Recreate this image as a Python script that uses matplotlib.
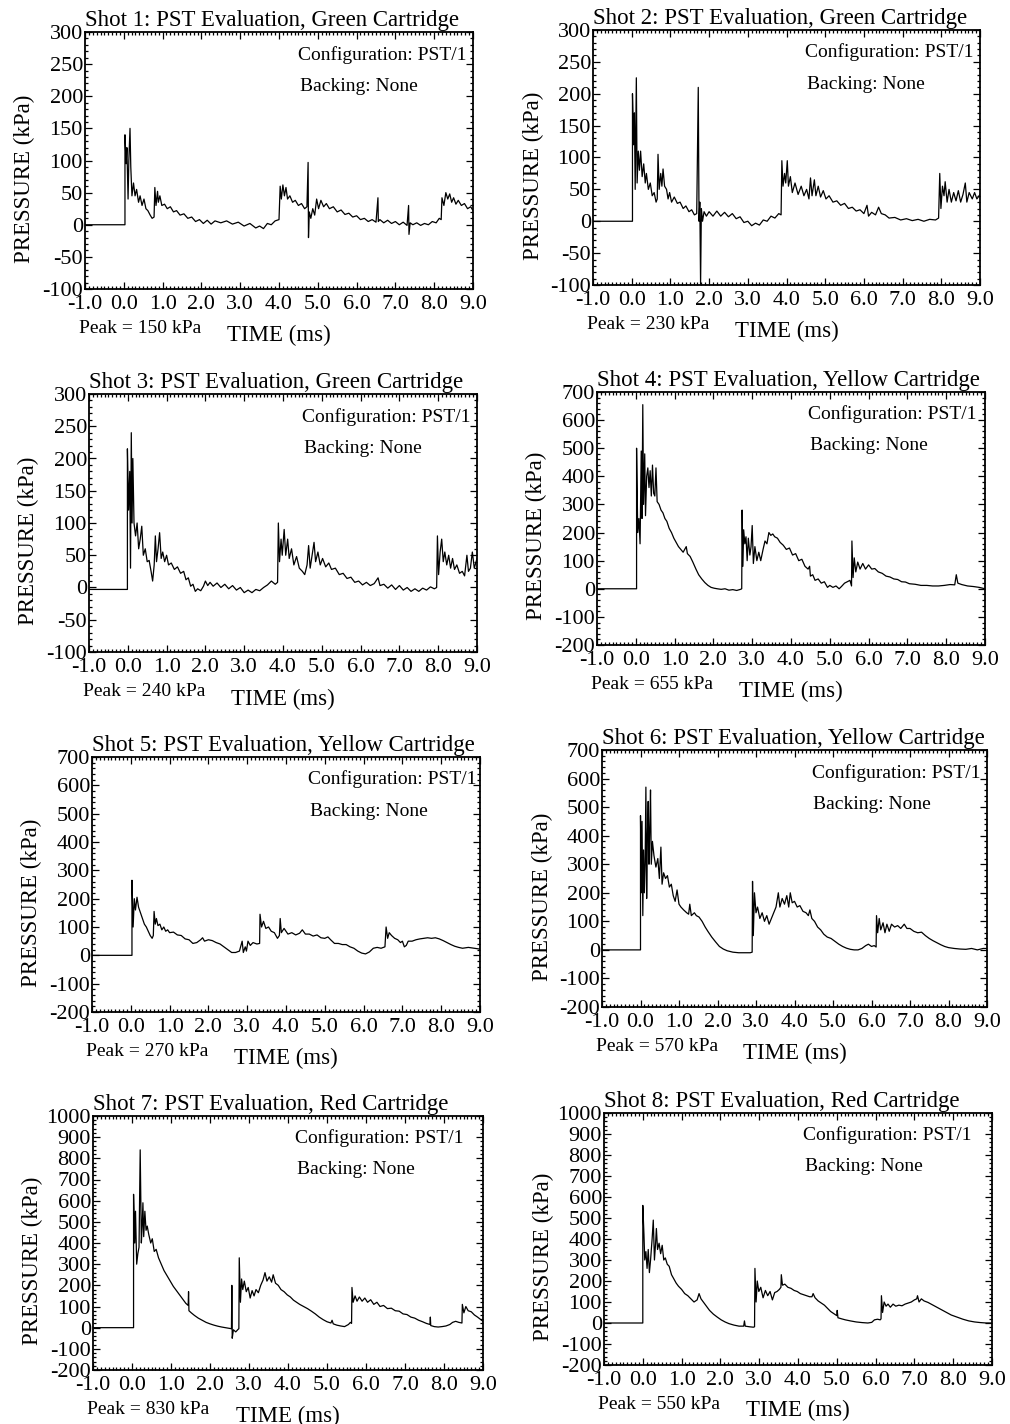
import matplotlib
matplotlib.use("Agg")
import matplotlib.pyplot as plt
from matplotlib.ticker import MultipleLocator, FormatStrFormatter

plt.rcParams['font.family'] = ['Liberation Serif', 'DejaVu Serif']
plt.rcParams['axes.unicode_minus'] = False

# pressure traces: (time ms, pressure kPa)
shot1 = [(-1.0, 0), (0.03, 0), (0.03, 140), (0.06, 95), (0.08, 120), (0.11, 40), (0.13, 100), (0.16, 150),
         (0.18, 90), (0.21, 45), (0.25, 65), (0.29, 45), (0.33, 55), (0.38, 35), (0.42, 45), (0.47, 30),
         (0.52, 40), (0.57, 25), (0.62, 22), (0.68, 15), (0.73, 10), (0.78, 12), (0.80, 58), (0.83, 30),
         (0.87, 52), (0.89, 35), (0.93, 45), (0.98, 30), (1.05, 32), (1.12, 25), (1.2, 28), (1.28, 20),
         (1.36, 22), (1.45, 15), (1.55, 17), (1.65, 10), (1.75, 12), (1.85, 5), (1.95, 8), (2.05, 2),
         (2.15, 7), (2.25, 1), (2.35, 6), (2.5, 3), (2.65, 6), (2.8, 1), (2.95, 4), (3.1, -2), (3.25, 2),
         (3.4, -5), (3.5, -2), (3.6, -6), (3.7, 2), (3.8, 0), (3.9, 6), (4.0, 8), (4.03, 60), (4.06, 40),
         (4.1, 62), (4.14, 45), (4.18, 58), (4.22, 40), (4.28, 45), (4.35, 35), (4.42, 38), (4.5, 30),
         (4.58, 33), (4.66, 25), (4.72, 28), (4.75, 97), (4.76, -20), (4.78, 20), (4.82, 10), (4.87, 25),
         (4.92, 15), (4.97, 40), (5.02, 25), (5.08, 38), (5.15, 28), (5.22, 33), (5.3, 25), (5.4, 28),
         (5.5, 20), (5.6, 23), (5.7, 16), (5.8, 18), (5.9, 12), (6.0, 14), (6.1, 8), (6.2, 10), (6.3, 5),
         (6.4, 8), (6.5, 4), (6.55, 42), (6.56, 5), (6.6, 8), (6.7, 3), (6.8, 7), (6.9, 2), (7.0, 5),
         (7.1, 0), (7.2, 4), (7.3, -1), (7.34, 30), (7.35, -15), (7.38, 3), (7.45, 0), (7.55, 3),
         (7.65, -1), (7.75, 2), (7.85, 0), (7.95, 5), (8.05, 3), (8.13, 10), (8.18, 8), (8.2, 42),
         (8.25, 30), (8.3, 50), (8.35, 40), (8.4, 48), (8.45, 35), (8.5, 42), (8.56, 32), (8.62, 38),
         (8.7, 30), (8.78, 33), (8.86, 25), (8.94, 28), (9.0, 22)]

shot2 = [(-1.0, 0), (0.02, 0), (0.02, 200), (0.05, 120), (0.07, 170), (0.09, 50), (0.12, 225), (0.14, 60),
         (0.17, 110), (0.2, 80), (0.23, 110), (0.27, 70), (0.31, 90), (0.35, 60), (0.38, 75), (0.43, 50),
         (0.48, 60), (0.53, 40), (0.58, 45), (0.63, 30), (0.66, 35), (0.68, 105), (0.71, 50), (0.75, 75),
         (0.78, 55), (0.81, 82), (0.85, 55), (0.9, 50), (0.94, 35), (0.98, 45), (1.03, 30), (1.1, 38),
         (1.18, 28), (1.25, 30), (1.33, 20), (1.4, 24), (1.48, 15), (1.55, 18), (1.62, 10), (1.68, 12),
         (1.72, 210), (1.74, 0), (1.76, 30), (1.78, -100), (1.8, 20), (1.83, 0), (1.87, 15), (1.93, 8),
         (2.0, 15), (2.1, 8), (2.2, 16), (2.3, 8), (2.4, 14), (2.5, 7), (2.6, 12), (2.7, 4), (2.8, 7),
         (2.9, -2), (3.0, 0), (3.1, -7), (3.2, -3), (3.3, -6), (3.4, 2), (3.5, 0), (3.6, 8), (3.7, 5),
         (3.8, 12), (3.86, 10), (3.88, 95), (3.91, 55), (3.95, 75), (3.98, 60), (4.02, 95), (4.05, 55),
         (4.1, 70), (4.15, 45), (4.22, 60), (4.3, 42), (4.38, 55), (4.45, 40), (4.52, 50), (4.58, 35),
         (4.62, 68), (4.66, 40), (4.72, 65), (4.76, 40), (4.82, 55), (4.88, 38), (4.95, 48), (5.02, 35),
         (5.1, 40), (5.2, 30), (5.3, 32), (5.4, 25), (5.5, 28), (5.6, 20), (5.7, 22), (5.8, 16),
         (5.9, 18), (6.0, 12), (6.08, 25), (6.12, 8), (6.2, 14), (6.3, 10), (6.38, 22), (6.45, 12),
         (6.55, 10), (6.65, 5), (6.8, 6), (6.95, 2), (7.1, 4), (7.25, 1), (7.4, 3), (7.55, 0), (7.7, 3),
         (7.85, 2), (7.93, 5), (7.96, 75), (7.99, 20), (8.03, 55), (8.07, 40), (8.1, 62), (8.15, 30),
         (8.2, 50), (8.26, 30), (8.32, 45), (8.38, 32), (8.44, 48), (8.5, 30), (8.56, 42), (8.62, 60),
         (8.66, 30), (8.72, 45), (8.8, 35), (8.86, 45), (8.92, 35), (9.0, 42)]

shot3 = [(-1.0, -3), (-0.01, -3), (-0.01, 215), (0.02, 120), (0.05, 180), (0.07, 30), (0.09, 240),
         (0.11, 100), (0.13, 200), (0.16, 100), (0.2, 80), (0.24, 100), (0.28, 60), (0.32, 75), (0.36, 95),
         (0.4, 50), (0.45, 60), (0.5, 40), (0.55, 42), (0.6, 25), (0.64, 10), (0.68, 35), (0.71, 80),
         (0.74, 40), (0.78, 60), (0.82, 85), (0.86, 45), (0.9, 55), (0.95, 40), (1.0, 50), (1.05, 35),
         (1.12, 38), (1.2, 28), (1.28, 32), (1.36, 22), (1.44, 25), (1.5, 12), (1.56, 15), (1.62, 2),
         (1.68, 5), (1.74, -6), (1.8, -2), (1.88, -5), (1.95, 2), (2.0, 10), (2.06, 3), (2.12, 8),
         (2.2, 2), (2.3, 7), (2.4, 0), (2.5, 5), (2.6, -2), (2.7, 3), (2.8, -4), (2.9, 0), (3.0, -8),
         (3.1, -4), (3.2, -8), (3.3, -3), (3.4, -5), (3.5, 0), (3.6, 4), (3.7, 10), (3.8, 5), (3.86, 8),
         (3.88, 100), (3.91, 40), (3.95, 75), (3.98, 50), (4.03, 90), (4.07, 50), (4.12, 75), (4.16, 45),
         (4.22, 60), (4.28, 35), (4.35, 48), (4.42, 30), (4.5, 25), (4.56, 20), (4.62, 35), (4.66, 65),
         (4.7, 30), (4.75, 50), (4.8, 70), (4.84, 40), (4.9, 55), (4.96, 35), (5.02, 45), (5.1, 32),
         (5.18, 38), (5.25, 28), (5.35, 30), (5.45, 20), (5.55, 22), (5.65, 14), (5.75, 16), (5.85, 8),
         (5.95, 10), (6.05, 4), (6.15, 8), (6.25, 3), (6.35, 6), (6.45, 15), (6.5, 3), (6.6, 5),
         (6.7, -1), (6.8, 4), (6.9, -3), (7.0, 3), (7.1, -4), (7.2, 0), (7.3, -6), (7.4, -2), (7.5, -6),
         (7.6, -1), (7.7, -4), (7.8, 1), (7.9, -2), (7.96, 0), (7.98, 80), (8.01, 20), (8.05, 55),
         (8.09, 75), (8.13, 40), (8.17, 55), (8.22, 35), (8.27, 50), (8.32, 30), (8.37, 45), (8.42, 28),
         (8.48, 35), (8.55, 22), (8.62, 25), (8.68, 18), (8.74, 50), (8.78, 25), (8.83, 30), (8.88, 55),
         (8.93, 30), (9.0, 45)]

shot4 = [(-1.0, 0), (0.02, 0), (0.02, 500), (0.05, 200), (0.08, 250), (0.11, 160), (0.14, 490), (0.16, 250),
         (0.18, 655), (0.2, 300), (0.23, 480), (0.25, 260), (0.28, 400), (0.31, 430), (0.34, 360),
         (0.37, 420), (0.4, 330), (0.43, 440), (0.46, 340), (0.49, 330), (0.52, 430), (0.55, 310),
         (0.6, 300), (0.65, 280), (0.7, 270), (0.75, 250), (0.8, 240), (0.86, 215), (0.92, 200),
         (0.98, 180), (1.04, 165), (1.1, 150), (1.16, 140), (1.22, 130), (1.26, 140), (1.3, 150),
         (1.33, 125), (1.4, 115), (1.47, 95), (1.55, 70), (1.62, 50), (1.7, 35), (1.78, 22), (1.86, 12),
         (1.94, 5), (2.02, 2), (2.1, 0), (2.2, -2), (2.3, 0), (2.4, -5), (2.5, -3), (2.6, -6), (2.7, -2),
         (2.73, 0), (2.74, 280), (2.76, 80), (2.78, 210), (2.81, 160), (2.84, 185), (2.87, 100),
         (2.9, 180), (2.94, 120), (2.97, 150), (3.0, 225), (3.03, 90), (3.07, 150), (3.12, 100),
         (3.17, 130), (3.22, 100), (3.28, 140), (3.33, 170), (3.38, 160), (3.43, 200), (3.48, 190),
         (3.53, 195), (3.58, 185), (3.65, 180), (3.72, 165), (3.8, 155), (3.88, 140), (3.96, 145),
         (4.04, 120), (4.12, 125), (4.2, 100), (4.28, 105), (4.36, 80), (4.44, 70), (4.48, 80), (4.5, 45),
         (4.56, 50), (4.62, 30), (4.7, 35), (4.78, 20), (4.86, 25), (4.94, 5), (5.0, 12), (5.08, 5),
         (5.16, 10), (5.24, 0), (5.3, 8), (5.38, 20), (5.45, 25), (5.52, 30), (5.56, 10), (5.57, 170),
         (5.6, 40), (5.63, 110), (5.67, 60), (5.72, 95), (5.78, 70), (5.85, 90), (5.92, 70), (6.0, 85),
         (6.08, 70), (6.16, 72), (6.25, 60), (6.35, 55), (6.45, 45), (6.55, 42), (6.65, 35), (6.75, 33),
         (6.85, 25), (6.95, 24), (7.05, 18), (7.2, 16), (7.35, 12), (7.5, 12), (7.65, 10), (7.8, 10),
         (7.95, 12), (8.1, 15), (8.22, 14), (8.26, 50), (8.3, 20), (8.4, 15), (8.55, 10), (8.7, 8),
         (8.85, 5), (9.0, 0)]

shot5 = [(-1.0, 0), (0.03, 0), (0.03, 265), (0.06, 100), (0.09, 200), (0.12, 160), (0.16, 205), (0.2, 170),
         (0.25, 150), (0.3, 130), (0.35, 110), (0.4, 100), (0.45, 85), (0.5, 70), (0.55, 60), (0.58, 70),
         (0.6, 155), (0.63, 110), (0.66, 130), (0.7, 105), (0.75, 110), (0.8, 90), (0.85, 100), (0.9, 85),
         (0.95, 90), (1.0, 80), (1.1, 82), (1.2, 72), (1.3, 70), (1.4, 58), (1.5, 55), (1.6, 42),
         (1.7, 45), (1.8, 55), (1.85, 62), (1.9, 50), (2.0, 55), (2.1, 52), (2.2, 45), (2.3, 40),
         (2.4, 30), (2.5, 20), (2.6, 10), (2.7, 10), (2.8, 15), (2.87, 50), (2.9, 10), (2.95, 30),
         (2.98, 15), (3.02, 50), (3.08, 35), (3.15, 45), (3.25, 40), (3.32, 42), (3.33, 145), (3.37, 100),
         (3.42, 120), (3.48, 95), (3.55, 100), (3.62, 85), (3.7, 80), (3.78, 60), (3.83, 70), (3.85, 130),
         (3.88, 80), (3.95, 95), (4.05, 75), (4.15, 80), (4.25, 72), (4.35, 78), (4.42, 90), (4.5, 75),
         (4.6, 75), (4.7, 68), (4.8, 72), (4.9, 62), (5.0, 60), (5.08, 65), (5.15, 55), (5.25, 42),
         (5.35, 42), (5.45, 38), (5.55, 38), (5.65, 30), (5.75, 25), (5.85, 15), (5.95, 8), (6.05, 5),
         (6.15, 12), (6.25, 25), (6.35, 28), (6.45, 25), (6.55, 30), (6.58, 100), (6.62, 60), (6.66, 80),
         (6.72, 70), (6.8, 60), (6.88, 55), (6.95, 45), (7.0, 50), (7.05, 30), (7.1, 35), (7.15, 50),
         (7.25, 50), (7.35, 55), (7.45, 58), (7.55, 60), (7.65, 62), (7.75, 60), (7.85, 62), (7.95, 58),
         (8.05, 52), (8.15, 45), (8.25, 38), (8.35, 32), (8.45, 28), (8.55, 25), (8.7, 28), (8.85, 25),
         (9.0, 22)]

shot6 = [(-1.0, 0), (0.0, 0), (0.0, 470), (0.02, 200), (0.04, 450), (0.06, 120), (0.08, 350), (0.1, 200),
         (0.12, 300), (0.14, 570), (0.16, 180), (0.18, 400), (0.2, 520), (0.22, 300), (0.24, 420),
         (0.26, 560), (0.28, 300), (0.31, 380), (0.35, 330), (0.4, 290), (0.45, 320), (0.49, 250),
         (0.53, 360), (0.56, 230), (0.6, 270), (0.65, 250), (0.7, 260), (0.75, 220), (0.8, 230),
         (0.85, 190), (0.9, 170), (0.95, 210), (1.0, 160), (1.05, 150), (1.12, 140), (1.2, 130),
         (1.25, 125), (1.28, 160), (1.32, 120), (1.4, 130), (1.45, 120), (1.52, 115), (1.6, 100),
         (1.68, 80), (1.75, 65), (1.85, 45), (1.95, 28), (2.05, 12), (2.15, 3), (2.25, -3), (2.4, -8),
         (2.55, -10), (2.7, -10), (2.85, -10), (2.9, -8), (2.91, 240), (2.93, 50), (2.96, 200), (3.0, 130),
         (3.04, 150), (3.1, 110), (3.16, 130), (3.22, 100), (3.28, 120), (3.34, 90), (3.4, 110),
         (3.46, 130), (3.52, 150), (3.58, 200), (3.62, 150), (3.68, 180), (3.74, 160), (3.8, 190),
         (3.85, 150), (3.89, 200), (3.94, 165), (4.0, 170), (4.07, 150), (4.14, 155), (4.22, 135),
         (4.3, 130), (4.36, 120), (4.4, 140), (4.45, 110), (4.52, 100), (4.6, 80), (4.68, 70), (4.76, 55),
         (4.85, 45), (4.95, 40), (5.05, 30), (5.15, 20), (5.25, 12), (5.35, 6), (5.45, 2), (5.55, 0),
         (5.65, 0), (5.75, 5), (5.85, 15), (5.92, 20), (6.0, 12), (6.07, 15), (6.12, 10), (6.13, 120),
         (6.16, 60), (6.2, 110), (6.24, 70), (6.3, 95), (6.35, 60), (6.4, 90), (6.46, 65), (6.52, 90),
         (6.6, 80), (6.68, 85), (6.76, 75), (6.85, 90), (6.92, 75), (7.0, 75), (7.1, 65), (7.2, 60),
         (7.3, 62), (7.4, 50), (7.5, 40), (7.6, 32), (7.7, 25), (7.8, 18), (7.9, 12), (8.0, 8),
         (8.15, 5), (8.3, 3), (8.45, 2), (8.6, 5), (8.75, 0), (8.9, 5), (9.0, 5)]

shot7 = [(-1.0, 0), (0.04, 0), (0.04, 630), (0.07, 400), (0.09, 550), (0.12, 300), (0.15, 350), (0.18, 380),
         (0.21, 840), (0.24, 400), (0.26, 480), (0.28, 590), (0.3, 430), (0.33, 550), (0.36, 460),
         (0.39, 480), (0.43, 440), (0.48, 400), (0.52, 420), (0.57, 360), (0.62, 370), (0.68, 330),
         (0.75, 300), (0.82, 270), (0.9, 245), (0.98, 220), (1.06, 195), (1.14, 175), (1.22, 155),
         (1.3, 135), (1.38, 115), (1.44, 105), (1.45, 170), (1.46, 80), (1.52, 70), (1.6, 58), (1.7, 45),
         (1.8, 35), (1.9, 25), (2.0, 18), (2.1, 12), (2.2, 7), (2.3, 3), (2.4, 0), (2.5, -3), (2.55, -5),
         (2.56, 200), (2.57, -50), (2.6, -10), (2.66, -20), (2.72, -8), (2.74, -5), (2.75, 330),
         (2.78, 120), (2.81, 230), (2.84, 180), (2.88, 220), (2.93, 170), (2.98, 190), (3.03, 140),
         (3.08, 175), (3.13, 150), (3.18, 180), (3.24, 165), (3.3, 200), (3.36, 225), (3.41, 260),
         (3.46, 220), (3.52, 240), (3.58, 215), (3.62, 250), (3.68, 210), (3.75, 200), (3.82, 180),
         (3.9, 170), (3.98, 155), (4.06, 145), (4.14, 130), (4.22, 120), (4.3, 110), (4.4, 100),
         (4.5, 90), (4.6, 78), (4.7, 65), (4.8, 50), (4.9, 38), (5.0, 28), (5.1, 22), (5.13, 35),
         (5.16, 18), (5.25, 12), (5.35, 8), (5.45, 5), (5.55, 15), (5.6, 25), (5.63, 20), (5.64, 190),
         (5.67, 120), (5.72, 150), (5.77, 125), (5.83, 145), (5.9, 125), (5.97, 140), (6.04, 120),
         (6.12, 132), (6.2, 110), (6.28, 120), (6.36, 100), (6.45, 105), (6.55, 90), (6.65, 92),
         (6.75, 80), (6.85, 78), (6.95, 65), (7.05, 62), (7.15, 50), (7.25, 45), (7.35, 35), (7.45, 28),
         (7.55, 20), (7.64, 15), (7.65, 50), (7.66, 10), (7.75, 5), (7.85, 3), (7.95, 5), (8.05, 8),
         (8.15, 15), (8.22, 25), (8.3, 30), (8.38, 25), (8.46, 22), (8.47, 110), (8.51, 70), (8.56, 100),
         (8.62, 80), (8.7, 75), (8.78, 60), (8.86, 50), (8.93, 40), (9.0, 30)]

shot8 = [(-1.0, 0), (0.0, 0), (0.0, 560), (0.03, 420), (0.05, 300), (0.08, 340), (0.11, 260), (0.14, 350),
         (0.17, 240), (0.2, 300), (0.24, 400), (0.27, 490), (0.3, 300), (0.33, 380), (0.35, 450),
         (0.38, 350), (0.42, 380), (0.46, 330), (0.5, 370), (0.54, 300), (0.58, 310), (0.63, 280),
         (0.68, 270), (0.74, 230), (0.8, 210), (0.86, 190), (0.92, 175), (1.0, 160), (1.08, 140),
         (1.16, 130), (1.24, 115), (1.32, 100), (1.4, 110), (1.45, 140), (1.5, 115), (1.56, 100),
         (1.64, 80), (1.72, 60), (1.82, 42), (1.92, 28), (2.02, 15), (2.12, 5), (2.22, -3), (2.35, -10),
         (2.48, -15), (2.6, -15), (2.62, 10), (2.64, -15), (2.75, -18), (2.85, -20), (2.88, -18),
         (2.89, 260), (2.92, 100), (2.95, 200), (2.99, 150), (3.04, 170), (3.1, 120), (3.16, 155),
         (3.22, 130), (3.28, 150), (3.34, 110), (3.4, 145), (3.46, 150), (3.52, 160), (3.56, 170),
         (3.57, 230), (3.6, 180), (3.66, 185), (3.74, 170), (3.82, 165), (3.9, 155), (3.98, 150),
         (4.06, 140), (4.14, 135), (4.22, 130), (4.3, 125), (4.36, 125), (4.39, 140), (4.44, 120),
         (4.52, 105), (4.6, 95), (4.68, 85), (4.76, 70), (4.84, 55), (4.92, 45), (5.0, 35), (5.01, 60),
         (5.03, 25), (5.12, 20), (5.22, 15), (5.35, 10), (5.5, 5), (5.65, 2), (5.8, 0), (5.9, 3),
         (5.97, 15), (6.05, 18), (6.12, 15), (6.14, 20), (6.15, 130), (6.18, 50), (6.22, 100), (6.27, 80),
         (6.32, 90), (6.38, 75), (6.45, 90), (6.52, 80), (6.6, 85), (6.68, 82), (6.76, 90), (6.84, 95),
         (6.92, 100), (7.0, 110), (7.06, 115), (7.08, 130), (7.12, 100), (7.18, 115), (7.25, 105),
         (7.35, 98), (7.45, 88), (7.55, 78), (7.65, 68), (7.75, 58), (7.85, 48), (7.95, 38), (8.1, 28),
         (8.25, 18), (8.4, 10), (8.55, 5), (8.7, 2), (8.85, 0), (9.0, 0)]

traces = [shot1, shot2, shot3, shot4, shot5, shot6, shot7, shot8]
cartridges = ["Green", "Green", "Green", "Yellow", "Yellow", "Yellow", "Red", "Red"]
peaks = [150, 230, 240, 655, 270, 570, 830, 550]
y_ranges = [(-100, 300, 50), (-100, 300, 50), (-100, 300, 50),
            (-200, 700, 100), (-200, 700, 100), (-200, 700, 100),
            (-200, 1000, 100), (-200, 1000, 100)]

# panel boxes in pixels of the 1010x1424 page: left, top, right, bottom
boxes = [(85, 32, 473, 289), (593, 30, 980, 285),
         (89, 394, 477, 652), (597, 392, 985, 645),
         (92, 757, 480, 1012), (602, 750, 987, 1007),
         (93, 1116, 483, 1370), (604, 1113, 992, 1365)]
note_x = [0.549, 0.548, 0.549, 0.544, 0.557, 0.545, 0.518, 0.513]

W, H = 1010, 1424
fig = plt.figure(figsize=(W / 100, H / 100), dpi=100)

for i in range(8):
    l, t, r, b = boxes[i]
    ax = fig.add_axes([l / W, 1 - b / H, (r - l) / W, (b - t) / H])
    times = [p[0] for p in traces[i]]
    kpa = [p[1] for p in traces[i]]
    ax.plot(times, kpa, color='black', lw=0.9)

    ymin, ymax, ystep = y_ranges[i]
    ax.set_xlim(-1.0, 9.0)
    ax.set_ylim(ymin, ymax)
    ax.xaxis.set_major_locator(MultipleLocator(1.0))
    ax.xaxis.set_minor_locator(MultipleLocator(0.1))
    ax.xaxis.set_major_formatter(FormatStrFormatter('%.1f'))
    ax.yaxis.set_major_locator(MultipleLocator(ystep))
    ax.yaxis.set_minor_locator(MultipleLocator(ystep / 5))
    ax.tick_params(which='both', direction='in', top=True, right=True, width=0.9, labelsize=16)
    ax.tick_params(which='major', length=5)
    ax.tick_params(which='minor', length=2.5)
    ax.tick_params(axis='x', pad=4)
    ax.tick_params(axis='y', pad=1.5)
    for s in ax.spines.values():
        s.set_linewidth(1.3)

    ax.text(0.0, 1.022, "Shot %d: PST Evaluation, %s Cartridge" % (i + 1, cartridges[i]),
            transform=ax.transAxes, ha='left', va='baseline', fontsize=16.5)
    ax.text(note_x[i], 0.912, "Configuration: PST/1", transform=ax.transAxes,
            ha='left', va='center', fontsize=14)
    ax.text(note_x[i] + 0.004, 0.788, "Backing: None", transform=ax.transAxes,
            ha='left', va='center', fontsize=14)
    ax.text(-0.015, -0.155, "Peak = %d kPa" % peaks[i], transform=ax.transAxes,
            ha='left', va='center', fontsize=14)
    ax.text(0.5, -0.182, "TIME (ms)", transform=ax.transAxes,
            ha='center', va='center', fontsize=16.5)
    ax.text(-0.155, 0.43, "PRESSURE (kPa)", transform=ax.transAxes, rotation=90,
            ha='center', va='center', fontsize=16.5)

fig.savefig("out.png", dpi=100, facecolor='white')
